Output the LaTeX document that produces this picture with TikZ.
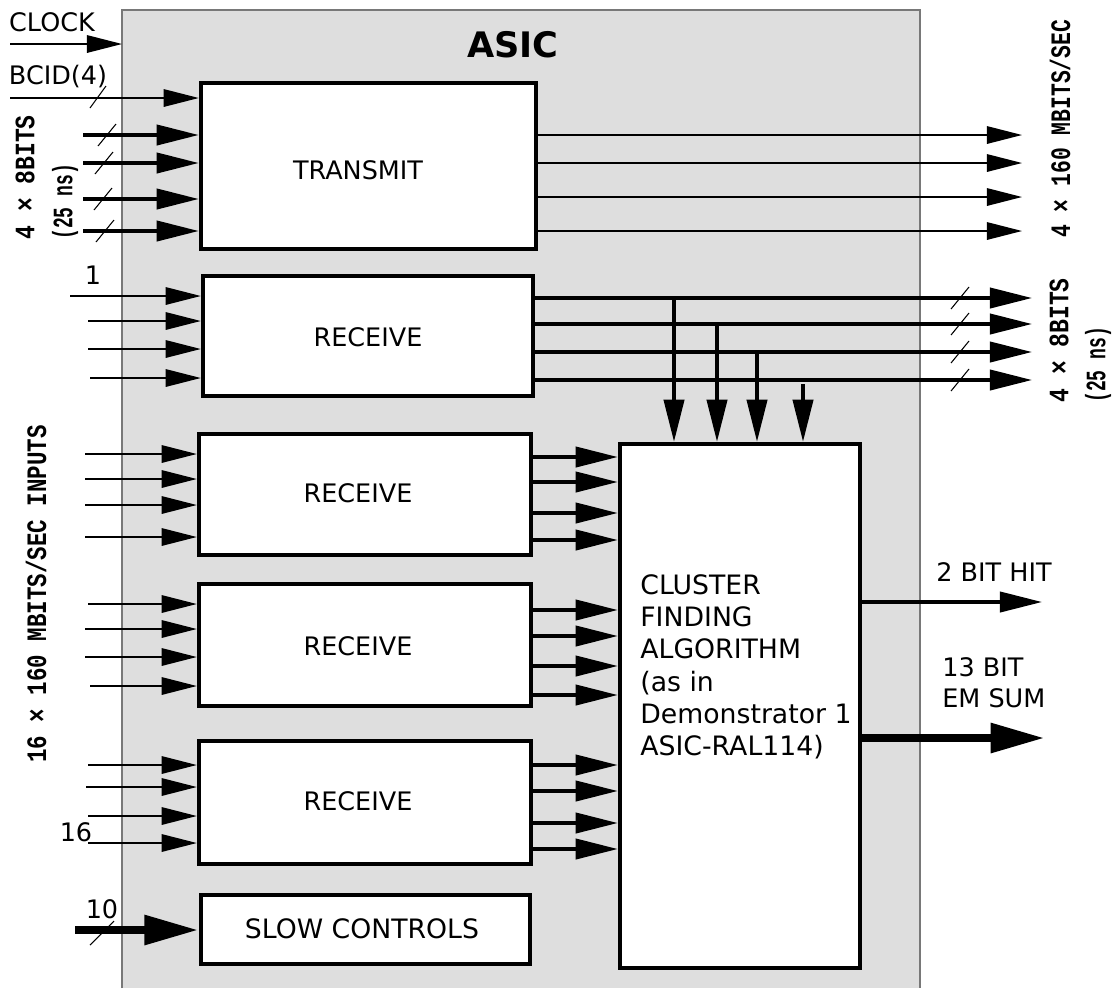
\documentclass[tikz,border=0pt]{standalone}
\usepackage{fontspec}
\setmainfont{DejaVu Sans}
\newfontfamily\monof{Liberation Mono}
\usetikzlibrary{arrows.meta}
\definecolor{panel}{RGB}{222,222,222}
\definecolor{panelline}{RGB}{120,120,120}
\newcommand{\sq}[2]{\scalebox{#1}[1]{#2}}
\begin{document}
\begin{tikzpicture}[x=0.02cm,y=-0.02cm,
  box/.style={draw,line width=2.6pt,fill=white,inner sep=0pt},
  lbl/.style={inner sep=0pt,font=\fontsize{14.5}{18}\selectfont},
  rot/.style={inner sep=0pt,rotate=90,anchor=west,font=\monof\bfseries\fontsize{16}{18}\selectfont},
  thinarr/.style={line width=0.8pt,-{Triangle[length=20pt,width=10pt]}},
  busarr/.style={line width=2pt,-{Triangle[length=24pt,width=11.5pt]}},
  fatarr/.style={line width=5pt,-{Triangle[length=31pt,width=16pt]}},
  slash/.style={line width=0.6pt}
]
\useasboundingbox (0,0) rectangle (1118,988);
\fill[panel] (122,10) rectangle (920,988);
\draw[panelline, line width=0.6pt] (122,988) -- (122,10) -- (920,10) -- (920,988);

\node[font=\bfseries\fontsize{20}{24}\selectfont] (title) at (513,45) {ASIC};

% boxes
\node[box,minimum width=6.7cm,minimum height=3.32cm] (tr) at (368.5,166) {};
\node[box,minimum width=6.6cm,minimum height=2.4cm] (r1) at (368,336) {};
\node[box,minimum width=6.64cm,minimum height=2.42cm] (r2) at (365,494.5) {};
\node[box,minimum width=6.64cm,minimum height=2.44cm] (r3) at (365,645) {};
\node[box,minimum width=6.64cm,minimum height=2.46cm] (r4) at (365,802.5) {};
\node[box,minimum width=6.58cm,minimum height=1.38cm] (sc) at (365.5,929.5) {};
\node[box,minimum width=4.8cm,minimum height=10.48cm] (cl) at (740,706) {};

\node[lbl] (trl) at (358,170) {TRANSMIT};
\node[lbl] (r1l) at (368,337) {RECEIVE};
\node[lbl] (r2l) at (358,493) {RECEIVE};
\node[lbl] (r3l) at (358,646) {RECEIVE};
\node[lbl] (r4l) at (358,801) {RECEIVE};
\node[lbl,font=\fontsize{15.2}{18}\selectfont] (scl) at (362,929) {SLOW CONTROLS};
\node[lbl,font=\fontsize{15.2}{18.4}\selectfont,anchor=north west,align=left] (cltext) at (640,574) {CLUSTER\\FINDING\\ALGORITHM\\(as in\\Demonstrator 1\\ASIC-RAL114)};

% clock and bcid
\node[lbl] (clk) at (52,22) {CLOCK};
\coordinate (cks) at (10,44);
\coordinate (cke) at (122,44);
\draw[thinarr] (cks) -- (cke);
\node[lbl] (bcid) at (58,77) {BCID(4)};
\coordinate (bcs) at (10,98);
\draw[thinarr] (bcs) -- (bcs -| tr.west);
\draw[slash] (98,97) ++(-8,11) -- ++(16,-22);

% transmit inputs
\foreach \y/\n/\sx in {135/1/107,163/2/104,199/3/103,231/4/105} {
  \coordinate (ti\n) at (83,\y);
  \draw[busarr] (ti\n) -- (ti\n -| tr.west);
  \draw[slash] (\sx,\y) ++(-9,11) -- ++(18,-22);
}
% transmit outputs
\foreach \y/\n in {135/1,163/2,197/3,231/4} {
  \coordinate (to\n) at (1022,\y);
  \draw[thinarr] (to\n -| tr.east) -- (to\n);
}

% receive 1
\foreach \x/\y/\n in {70/296/1,88/321/2,88/349/3,90/378/4} {
  \coordinate (ai\n) at (\x,\y);
  \draw[thinarr] (ai\n) -- (ai\n -| r1.west);
}
\foreach \y/\n in {298/1,324/2,352/3,380/4} {
  \coordinate (ao\n) at (1032,\y);
  \draw[busarr] (ao\n -| r1.east) -- (ao\n);
  \draw[slash] (960,\y) ++(-9,11) -- ++(18,-22);
}
\foreach \x/\y/\n in {674/298/1,717/324/2,757/352/3,803/384/4} {
  \coordinate (br\n) at (\x,\y);
  \draw[busarr] (br\n) -- (br\n |- cl.north);
}

% receive 2
\foreach \x/\y/\n in {85/454/1,85/479/2,85/505/3,85/537/4} {
  \coordinate (bi\n) at (\x,\y);
  \draw[thinarr] (bi\n) -- (bi\n -| r2.west);
}
\foreach \y/\n in {457/1,482/2,513/3,540/4} {
  \coordinate (bo\n) at (600,\y);
  \draw[busarr] (bo\n -| r2.east) -- (bo\n -| cl.west);
}
% receive 3
\foreach \x/\y/\n in {88/604/1,85/629/2,85/657/3,90/686/4} {
  \coordinate (ci\n) at (\x,\y);
  \draw[thinarr] (ci\n) -- (ci\n -| r3.west);
}
\foreach \y/\n in {610/1,636/2,666/3,695/4} {
  \coordinate (co\n) at (600,\y);
  \draw[busarr] (co\n -| r3.east) -- (co\n -| cl.west);
}
% receive 4
\foreach \x/\y/\n in {88/765/1,86/787/2,88/816/3,88/843/4} {
  \coordinate (di\n) at (\x,\y);
  \draw[thinarr] (di\n) -- (di\n -| r4.west);
}
\foreach \y/\n in {765/1,791/2,823/3,849/4} {
  \coordinate (do\n) at (600,\y);
  \draw[busarr] (do\n -| r4.east) -- (do\n -| cl.west);
}

% slow controls
\coordinate (si) at (75,930);
\draw[fatarr] (si) -- (si -| sc.west);
\draw[slash] (102,933) ++(-12,12) -- ++(24,-24);

% outputs
\coordinate (ho) at (1042,602);
\draw[busarr] (ho -| cl.east) -- (ho);
\coordinate (eo) at (1045,738);
\draw[fatarr] (eo -| cl.east) -- (eo);

% labels
\node[lbl] (one) at (93,275) {1};
\node[lbl] (sixteen) at (76,832) {16};
\node[lbl] (ten) at (102,909) {10};
\node[lbl] (hit) at (994,572) {2 BIT HIT};
\node[lbl,anchor=north west,align=left] (emsum) at (942,657) {13 BIT\\EM SUM};

\node[rot] (ltb) at (25,240) {\sq{0.82}{4 × 8BITS}};
\node[rot] (ltn) at (65,240) {\sq{0.64}{(25 ns)}};
\node[rot] (rtb) at (1060,238) {\sq{0.76}{4 × 160 MBITS/SEC}};
\node[rot] (rrb) at (1059,403) {\sq{0.82}{4 × 8BITS}};
\node[rot] (rrn) at (1098,403) {\sq{0.64}{(25 ns)}};
\node[rot] (lin) at (36,763) {\sq{0.8}{16 × 160 MBITS/SEC INPUTS}};
\end{tikzpicture}
\end{document}
